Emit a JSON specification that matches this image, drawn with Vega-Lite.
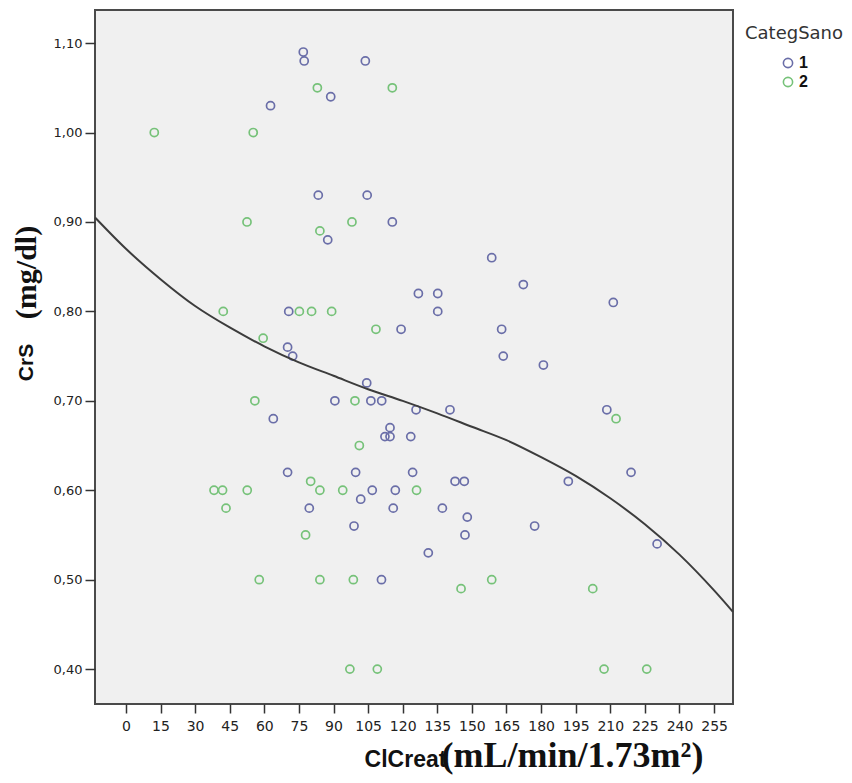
{
  "$schema": "https://vega.github.io/schema/vega-lite/v6.json",
  "width": 638,
  "height": 694,
  "autosize": {"type": "none"},
  "padding": {"left": 95, "top": 10, "right": 119, "bottom": 79},
  "background": "white",
  "config": {
    "view": {"fill": "#f0f0f0", "stroke": "#4a4a4a", "strokeWidth": 2},
    "axis": {"grid": false, "domain": false, "tickColor": "#333333", "tickWidth": 1.5, "labelColor": "#222222", "labelFont": "DejaVu Sans", "titleColor": "#111111"}
  },
  "datasets": {
    "pts": [
      {"ClCreat": 76.9, "CrS": 1.09, "CategSano": "1"},
      {"ClCreat": 77.3, "CrS": 1.08, "CategSano": "1"},
      {"ClCreat": 103.8, "CrS": 1.08, "CategSano": "1"},
      {"ClCreat": 88.8, "CrS": 1.04, "CategSano": "1"},
      {"ClCreat": 62.7, "CrS": 1.03, "CategSano": "1"},
      {"ClCreat": 83.4, "CrS": 0.93, "CategSano": "1"},
      {"ClCreat": 104.6, "CrS": 0.93, "CategSano": "1"},
      {"ClCreat": 115.5, "CrS": 0.90, "CategSano": "1"},
      {"ClCreat": 87.5, "CrS": 0.88, "CategSano": "1"},
      {"ClCreat": 158.6, "CrS": 0.86, "CategSano": "1"},
      {"ClCreat": 172.3, "CrS": 0.83, "CategSano": "1"},
      {"ClCreat": 126.8, "CrS": 0.82, "CategSano": "1"},
      {"ClCreat": 135.2, "CrS": 0.82, "CategSano": "1"},
      {"ClCreat": 211.3, "CrS": 0.81, "CategSano": "1"},
      {"ClCreat": 70.6, "CrS": 0.80, "CategSano": "1"},
      {"ClCreat": 135.2, "CrS": 0.80, "CategSano": "1"},
      {"ClCreat": 119.3, "CrS": 0.78, "CategSano": "1"},
      {"ClCreat": 162.9, "CrS": 0.78, "CategSano": "1"},
      {"ClCreat": 70.1, "CrS": 0.76, "CategSano": "1"},
      {"ClCreat": 72.3, "CrS": 0.75, "CategSano": "1"},
      {"ClCreat": 163.6, "CrS": 0.75, "CategSano": "1"},
      {"ClCreat": 181.0, "CrS": 0.74, "CategSano": "1"},
      {"ClCreat": 104.4, "CrS": 0.72, "CategSano": "1"},
      {"ClCreat": 90.6, "CrS": 0.70, "CategSano": "1"},
      {"ClCreat": 106.2, "CrS": 0.70, "CategSano": "1"},
      {"ClCreat": 110.9, "CrS": 0.70, "CategSano": "1"},
      {"ClCreat": 125.8, "CrS": 0.69, "CategSano": "1"},
      {"ClCreat": 140.5, "CrS": 0.69, "CategSano": "1"},
      {"ClCreat": 208.5, "CrS": 0.69, "CategSano": "1"},
      {"ClCreat": 63.9, "CrS": 0.68, "CategSano": "1"},
      {"ClCreat": 114.5, "CrS": 0.67, "CategSano": "1"},
      {"ClCreat": 112.3, "CrS": 0.66, "CategSano": "1"},
      {"ClCreat": 114.5, "CrS": 0.66, "CategSano": "1"},
      {"ClCreat": 123.5, "CrS": 0.66, "CategSano": "1"},
      {"ClCreat": 70.1, "CrS": 0.62, "CategSano": "1"},
      {"ClCreat": 99.6, "CrS": 0.62, "CategSano": "1"},
      {"ClCreat": 124.3, "CrS": 0.62, "CategSano": "1"},
      {"ClCreat": 219.0, "CrS": 0.62, "CategSano": "1"},
      {"ClCreat": 142.7, "CrS": 0.61, "CategSano": "1"},
      {"ClCreat": 146.7, "CrS": 0.61, "CategSano": "1"},
      {"ClCreat": 191.8, "CrS": 0.61, "CategSano": "1"},
      {"ClCreat": 106.8, "CrS": 0.60, "CategSano": "1"},
      {"ClCreat": 116.8, "CrS": 0.60, "CategSano": "1"},
      {"ClCreat": 101.8, "CrS": 0.59, "CategSano": "1"},
      {"ClCreat": 79.5, "CrS": 0.58, "CategSano": "1"},
      {"ClCreat": 115.9, "CrS": 0.58, "CategSano": "1"},
      {"ClCreat": 137.2, "CrS": 0.58, "CategSano": "1"},
      {"ClCreat": 148.0, "CrS": 0.57, "CategSano": "1"},
      {"ClCreat": 98.9, "CrS": 0.56, "CategSano": "1"},
      {"ClCreat": 177.2, "CrS": 0.56, "CategSano": "1"},
      {"ClCreat": 147.0, "CrS": 0.55, "CategSano": "1"},
      {"ClCreat": 230.3, "CrS": 0.54, "CategSano": "1"},
      {"ClCreat": 131.1, "CrS": 0.53, "CategSano": "1"},
      {"ClCreat": 110.8, "CrS": 0.50, "CategSano": "1"},
      {"ClCreat": 12.3, "CrS": 1.00, "CategSano": "2"},
      {"ClCreat": 55.2, "CrS": 1.00, "CategSano": "2"},
      {"ClCreat": 83.0, "CrS": 1.05, "CategSano": "2"},
      {"ClCreat": 115.5, "CrS": 1.05, "CategSano": "2"},
      {"ClCreat": 52.5, "CrS": 0.90, "CategSano": "2"},
      {"ClCreat": 84.1, "CrS": 0.89, "CategSano": "2"},
      {"ClCreat": 98.0, "CrS": 0.90, "CategSano": "2"},
      {"ClCreat": 42.2, "CrS": 0.80, "CategSano": "2"},
      {"ClCreat": 75.2, "CrS": 0.80, "CategSano": "2"},
      {"ClCreat": 80.5, "CrS": 0.80, "CategSano": "2"},
      {"ClCreat": 89.2, "CrS": 0.80, "CategSano": "2"},
      {"ClCreat": 108.4, "CrS": 0.78, "CategSano": "2"},
      {"ClCreat": 59.5, "CrS": 0.77, "CategSano": "2"},
      {"ClCreat": 55.9, "CrS": 0.70, "CategSano": "2"},
      {"ClCreat": 99.3, "CrS": 0.70, "CategSano": "2"},
      {"ClCreat": 212.5, "CrS": 0.68, "CategSano": "2"},
      {"ClCreat": 101.2, "CrS": 0.65, "CategSano": "2"},
      {"ClCreat": 80.1, "CrS": 0.61, "CategSano": "2"},
      {"ClCreat": 38.2, "CrS": 0.60, "CategSano": "2"},
      {"ClCreat": 41.9, "CrS": 0.60, "CategSano": "2"},
      {"ClCreat": 52.6, "CrS": 0.60, "CategSano": "2"},
      {"ClCreat": 84.1, "CrS": 0.60, "CategSano": "2"},
      {"ClCreat": 94.0, "CrS": 0.60, "CategSano": "2"},
      {"ClCreat": 126.0, "CrS": 0.60, "CategSano": "2"},
      {"ClCreat": 43.4, "CrS": 0.58, "CategSano": "2"},
      {"ClCreat": 77.9, "CrS": 0.55, "CategSano": "2"},
      {"ClCreat": 57.8, "CrS": 0.50, "CategSano": "2"},
      {"ClCreat": 84.1, "CrS": 0.50, "CategSano": "2"},
      {"ClCreat": 98.6, "CrS": 0.50, "CategSano": "2"},
      {"ClCreat": 158.6, "CrS": 0.50, "CategSano": "2"},
      {"ClCreat": 145.3, "CrS": 0.49, "CategSano": "2"},
      {"ClCreat": 202.4, "CrS": 0.49, "CategSano": "2"},
      {"ClCreat": 97.1, "CrS": 0.40, "CategSano": "2"},
      {"ClCreat": 109.0, "CrS": 0.40, "CategSano": "2"},
      {"ClCreat": 207.3, "CrS": 0.40, "CategSano": "2"},
      {"ClCreat": 225.8, "CrS": 0.40, "CategSano": "2"}
    ],
    "fit": [
      {"ClCreat": -13.4, "CrS": 0.905},
      {"ClCreat": 0, "CrS": 0.870},
      {"ClCreat": 15, "CrS": 0.836},
      {"ClCreat": 30, "CrS": 0.806},
      {"ClCreat": 45, "CrS": 0.782},
      {"ClCreat": 60, "CrS": 0.761},
      {"ClCreat": 75, "CrS": 0.743},
      {"ClCreat": 90, "CrS": 0.728},
      {"ClCreat": 105, "CrS": 0.713},
      {"ClCreat": 120, "CrS": 0.700},
      {"ClCreat": 135, "CrS": 0.686},
      {"ClCreat": 150, "CrS": 0.671},
      {"ClCreat": 165, "CrS": 0.656},
      {"ClCreat": 180, "CrS": 0.637},
      {"ClCreat": 195, "CrS": 0.616},
      {"ClCreat": 210, "CrS": 0.591},
      {"ClCreat": 225, "CrS": 0.562},
      {"ClCreat": 240, "CrS": 0.528},
      {"ClCreat": 255, "CrS": 0.488},
      {"ClCreat": 263.2, "CrS": 0.464}
    ]
  },
  "layer": [
    {
      "data": {"name": "pts"},
      "mark": {"type": "point", "shape": "circle", "filled": false, "size": 65, "strokeWidth": 1.7, "opacity": 1},
      "encoding": {
        "x": {
          "field": "ClCreat", "type": "quantitative",
          "scale": {"domain": [-13.4, 263.2], "nice": false, "zero": false},
          "axis": {
            "values": [0, 15, 30, 45, 60, 75, 90, 105, 120, 135, 150, 165, 180, 195, 210, 225, 240, 255],
            "labelFontSize": 14, "labelPadding": 6, "tickSize": 9, "labelFlush": false, "labelOverlap": false,
            "title": "ClCreat", "titleFont": "Liberation Sans Narrow, Liberation Sans, Arial, sans-serif", "titleFontSize": 23, "titleFontWeight": "bold",
            "titleX": 310, "titleY": 62, "titleAlign": "center", "titleBaseline": "alphabetic"
          }
        },
        "y": {
          "field": "CrS", "type": "quantitative",
          "scale": {"domain": [0.361, 1.137], "nice": false, "zero": false},
          "axis": {
            "values": [0.4, 0.5, 0.6, 0.7, 0.8, 0.9, 1.0, 1.1],
            "labelExpr": "replace(format(datum.value, '.2f'), '.', ',')",
            "labelFontSize": 13, "labelPadding": 3, "tickSize": 10,
            "title": "CrS", "titleFont": "Liberation Sans, Arial, sans-serif", "titleFontSize": 21, "titleFontWeight": "bold",
            "titleAngle": -90, "titleX": -63, "titleY": 352, "titleAlign": "center", "titleBaseline": "alphabetic"
          }
        },
        "color": {
          "field": "CategSano", "type": "nominal",
          "scale": {"domain": ["1", "2"], "range": ["#6a6ea8", "#76c279"]},
          "legend": {
            "title": "CategSano", "orient": "none", "legendX": 650, "legendY": 15,
            "titleFont": "DejaVu Sans", "titleFontSize": 18, "titleFontWeight": "normal", "titleColor": "#333333", "titlePadding": 12,
            "symbolType": "circle", "symbolSize": 85, "symbolStrokeWidth": 1.6, "symbolOffset": 35,
            "labelOffset": 3, "labelFont": "Liberation Sans, Arial, sans-serif", "labelFontSize": 16, "labelFontWeight": "bold", "labelColor": "#111111",
            "rowPadding": 3
          }
        }
      }
    },
    {
      "data": {"name": "fit"},
      "mark": {"type": "line", "color": "#3c3c3c", "strokeWidth": 2, "interpolate": "monotone"},
      "encoding": {
        "x": {
          "field": "ClCreat", "type": "quantitative",
          "scale": {"domain": [-13.4, 263.2], "nice": false, "zero": false},
          "axis": {
            "orient": "bottom", "labels": false, "ticks": false, "domain": false,
            "title": "(mL/min/1.73m²)", "titleFont": "Liberation Serif, Times New Roman, serif", "titleFontSize": 36, "titleFontWeight": "bold",
            "titleX": 477, "titleY": 62, "titleAlign": "center", "titleBaseline": "alphabetic"
          }
        },
        "y": {
          "field": "CrS", "type": "quantitative",
          "scale": {"domain": [0.361, 1.137], "nice": false, "zero": false},
          "axis": {
            "orient": "left", "labels": false, "ticks": false, "domain": false,
            "title": "(mg/dl)", "titleFont": "Liberation Serif, Times New Roman, serif", "titleFontSize": 30, "titleFontWeight": "bold",
            "titleAngle": -90, "titleX": -60, "titleY": 262, "titleAlign": "center", "titleBaseline": "alphabetic"
          }
        }
      }
    }
  ],
  "resolve": {"axis": {"x": "independent", "y": "independent"}}
}
